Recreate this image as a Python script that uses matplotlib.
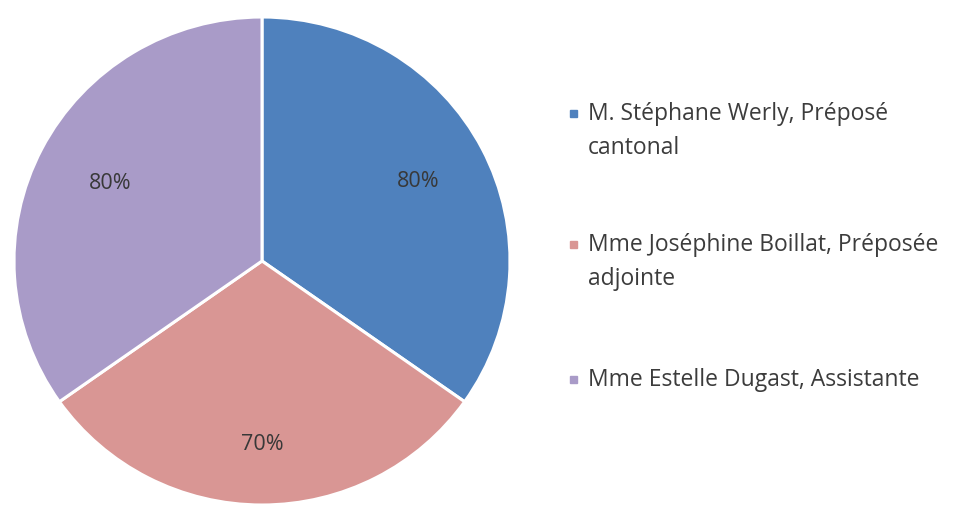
import matplotlib.pyplot as plt
import numpy as np

plt.rcParams['font.family'] = ['Open Sans', 'DejaVu Sans']

noms = ["M. Stéphane Werly, Préposé\ncantonal",
        "Mme Joséphine Boillat, Préposée\nadjointe",
        "Mme Estelle Dugast, Assistante"]
valeurs = [80, 70, 80]
etiquettes = ["80%", "70%", "80%"]
couleurs = ["#4F81BD", "#D99694", "#A99BC8"]

W, H = 954, 508
fig = plt.figure(figsize=(W / 100, H / 100), dpi=100)

# centre du camembert (262, 261) px, rayons 248 x 244 px
cx, cy, rx, ry = 262, 261, 248, 244
ax = fig.add_axes([(cx - rx) / W, (H - cy - ry) / H, 2 * rx / W, 2 * ry / H])
wedges, _ = ax.pie(valeurs, colors=couleurs, startangle=90, counterclock=False,
                   radius=1, wedgeprops=dict(edgecolor="white", linewidth=2.2))
ax.set_aspect("auto")
ax.set_xlim(-1, 1)
ax.set_ylim(-1, 1)
ax.axis("off")

# position des pourcentages (Excel "best fit")
dist = [0.71, 0.75, 0.69]
for w, lab, d in zip(wedges, etiquettes, dist):
    a = np.deg2rad((w.theta1 + w.theta2) / 2)
    ax.text(d * np.cos(a), d * np.sin(a), lab, ha="center", va="center",
            fontsize=15.5, color="#383838")

# legende
ys = [107, 238, 373]  # haut des majuscules
for nom, c, y in zip(noms, couleurs, ys):
    fig.patches.append(plt.Rectangle((570 / W, (H - y - 10) / H), 7 / W, 7 / H,
                                     transform=fig.transFigure, color=c))
    fig.text(588 / W, (H - y + 5) / H, nom, ha="left", va="top",
             fontsize=16.5, color="#3c3c3c", linespacing=1.55)

fig.savefig("out.png", dpi=100)
